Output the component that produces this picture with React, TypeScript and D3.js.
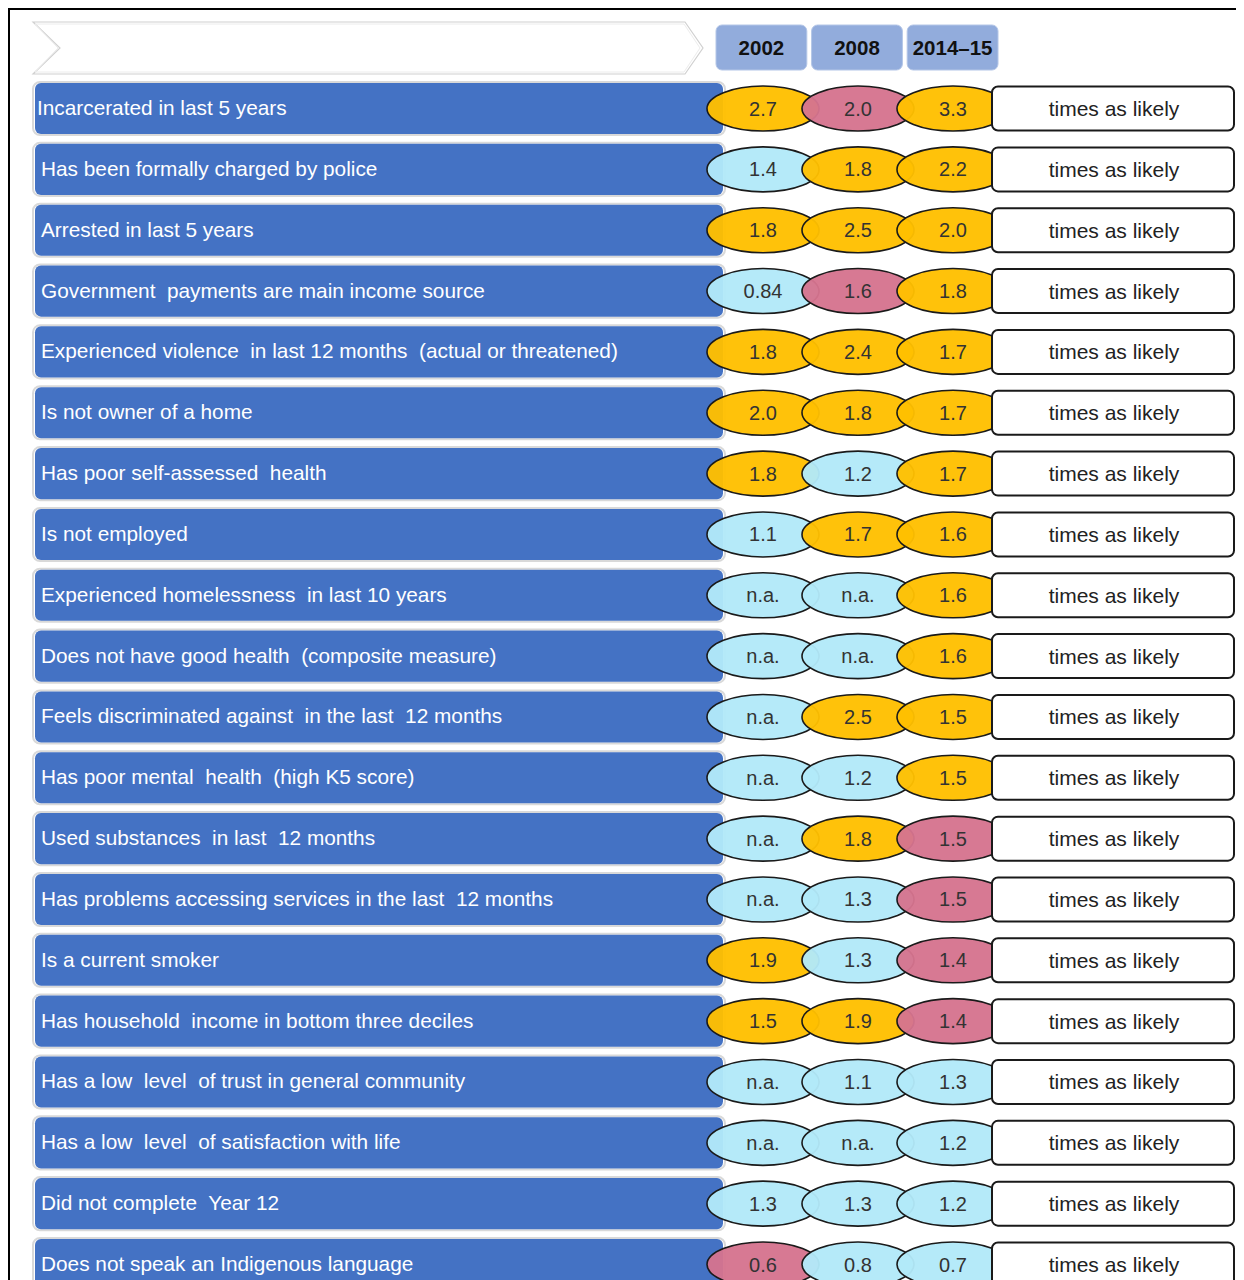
import React from "react";
import { scaleBand, scalePoint } from "d3";

const years = ["2002", "2008", "2014–15"];

const labels = [
  "Incarcerated in last 5 years",
  "Has been formally charged by police",
  "Arrested in last 5 years",
  "Government  payments are main income source",
  "Experienced violence  in last 12 months  (actual or threatened)",
  "Is not owner of a home",
  "Has poor self-assessed  health",
  "Is not employed",
  "Experienced homelessness  in last 10 years",
  "Does not have good health  (composite measure)",
  "Feels discriminated against  in the last  12 months",
  "Has poor mental  health  (high K5 score)",
  "Used substances  in last  12 months",
  "Has problems accessing services in the last  12 months",
  "Is a current smoker",
  "Has household  income in bottom three deciles",
  "Has a low  level  of trust in general community",
  "Has a low  level  of satisfaction with life",
  "Did not complete  Year 12",
  "Does not speak an Indigenous language",
];

const values2002 = ["2.7", "1.4", "1.8", "0.84", "1.8", "2.0", "1.8", "1.1", "n.a.", "n.a.", "n.a.", "n.a.", "n.a.", "n.a.", "1.9", "1.5", "n.a.", "n.a.", "1.3", "0.6"];
const values2008 = ["2.0", "1.8", "2.5", "1.6", "2.4", "1.8", "1.2", "1.7", "n.a.", "n.a.", "2.5", "1.2", "1.8", "1.3", "1.3", "1.9", "1.1", "n.a.", "1.3", "0.8"];
const values2015 = ["3.3", "2.2", "2.0", "1.8", "1.7", "1.7", "1.7", "1.6", "1.6", "1.6", "1.5", "1.5", "1.5", "1.5", "1.4", "1.4", "1.3", "1.2", "1.2", "0.7"];

// colour class of each bubble: y = yellow, p = pink, b = light blue
const class2002 = ["y", "b", "y", "b", "y", "y", "y", "b", "b", "b", "b", "b", "b", "b", "y", "y", "b", "b", "b", "p"];
const class2008 = ["p", "y", "y", "p", "y", "y", "b", "y", "b", "b", "y", "b", "y", "b", "b", "y", "b", "b", "b", "b"];
const class2015 = ["y", "y", "y", "y", "y", "y", "y", "y", "y", "y", "y", "y", "p", "p", "p", "p", "b", "b", "b", "b"];

const suffix = "times as likely";

const fills: Record<string, string> = { y: "#ffc000", p: "#d5748f", b: "#b2e9f9" };
const font = "'Liberation Sans', Arial, sans-serif";

export default function App() {
  const width = 1236;
  const height = 1272;
  const step = 60.84;
  const pad = 0.16;
  const y = scaleBand<number>()
    .domain(labels.map((d, i) => i))
    .range([75, 75 + labels.length * step - pad * step])
    .paddingInner(pad)
    .paddingOuter(0);
  const cx = scalePoint<string>().domain(years).range([755, 945]);
  const head = scaleBand<string>().domain(years).range([708, 990]).paddingInner(0.05);

  const series = [
    { year: years[0], vals: values2002, cls: class2002 },
    { year: years[1], vals: values2008, cls: class2008 },
    { year: years[2], vals: values2015, cls: class2015 },
  ];

  return (
    <svg width={width} height={height} style={{ display: "block", fontFamily: font }}>
      <rect x={1} y={1} width={width + 20} height={height + 20} fill="white" stroke="black" strokeWidth={2} />

      {/* header chevron */}
      <path d="M25,14 L677,14 L695,40 L677,66 L25,66 L52,40 Z" fill="white" stroke="#d0d0d0" strokeWidth={1.2} />
      <path d="M27,16 L676,16 L692,40 L676,64 L27,64 L50,40 Z" fill="none" stroke="#ececec" strokeWidth={1} />

      {years.map((yr) => (
        <g key={yr}>
          <rect x={head(yr)!} y={17} width={head.bandwidth()} height={45} rx={6} fill="#92acdc" stroke="#b4c6e7" strokeWidth={1} />
          <text x={head(yr)! + head.bandwidth() / 2} y={39} textAnchor="middle" dominantBaseline="central" fontWeight="bold" fontSize={20.5} fill="#111">
            {yr}
          </text>
        </g>
      ))}

      {labels.map((lab, i) => {
        const top = y(i)!;
        const h = y.bandwidth();
        const mid = top + h / 2;
        return (
          <g key={lab}>
            <rect x={25} y={top - 1} width={692} height={h + 2} rx={7} fill="none" stroke="#d9d9d9" strokeWidth={2} />
            <rect x={27} y={top} width={688} height={h} rx={6} fill="#4472c4" />
            <text x={i === 0 ? 29 : 33} y={mid - 1} dominantBaseline="central" fontSize={20.8} fill="white" style={{ whiteSpace: "pre" }}>
              {lab}
            </text>
            {series.map((s) => (
              <g key={s.year}>
                <ellipse cx={cx(s.year)!} cy={mid} rx={56} ry={22.5} fill={fills[s.cls[i]]} fillOpacity={0.96} stroke="#1a1a1a" strokeWidth={1.6} />
                <text x={cx(s.year)!} y={mid} textAnchor="middle" dominantBaseline="central" fontSize={20} fill="#333">
                  {s.vals[i]}
                </text>
              </g>
            ))}
            <rect x={984} y={mid - 22} width={242} height={44} rx={6} fill="white" stroke="#1a1a1a" strokeWidth={2} />
            <text x={1106} y={mid} textAnchor="middle" dominantBaseline="central" fontSize={21} fill="#222">
              {suffix}
            </text>
          </g>
        );
      })}
    </svg>
  );
}
